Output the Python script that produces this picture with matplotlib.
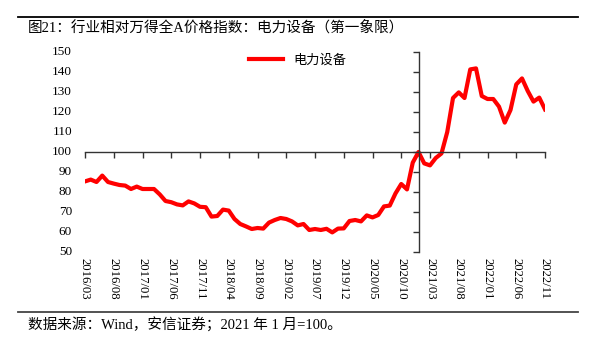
import matplotlib
matplotlib.use("Agg")
import matplotlib.pyplot as plt
from matplotlib.lines import Line2D

# monthly index, 2016/03 .. 2022/11 (2021/01 = 100)
values = [85.3, 86.2, 85.0, 88.2, 85.0, 84.2, 83.5, 83.2, 81.5, 82.7,
          81.5, 81.5, 81.5, 78.8, 75.5, 74.9, 73.8, 73.3, 75.3, 74.3,
          72.6, 72.4, 67.7, 68.0, 71.2, 70.7, 66.5, 64.0, 62.8, 61.5,
          62.0, 61.7, 64.7, 66.0, 67.0, 66.5, 65.3, 63.3, 64.0, 61.0,
          61.5, 61.0, 61.6, 59.8, 61.7, 61.8, 65.5, 66.0, 65.3, 68.3,
          67.3, 68.5, 72.8, 73.2, 79.3, 84.0, 81.3, 94.7, 100.0, 94.3,
          93.3, 97.0, 99.3, 110.0, 127.0, 129.8, 127.0, 141.3, 141.8, 128.0,
          126.5, 126.5, 122.7, 114.7, 121.0, 133.8, 136.8, 130.5, 125.2, 127.2,
          121.3]
tick_labels = ["2016/03", "2016/08", "2017/01", "2017/06", "2017/11", "2018/04",
               "2018/09", "2019/02", "2019/07", "2019/12", "2020/05", "2020/10",
               "2021/03", "2021/08", "2022/01", "2022/06", "2022/11"]
tick_pos = list(range(0, 81, 5))
y_ticks = [50, 60, 70, 80, 90, 100, 110, 120, 130, 140, 150]
base_idx = 58  # 2021/01

serif_cjk = ["Liberation Serif", "Noto Sans CJK SC"]

fig = plt.figure(figsize=(5.96, 3.47), dpi=100)
W, H = 596, 347
ax = fig.add_axes([85 / W, (H - 252) / H, 460 / W, 200 / H])

ax.plot(range(len(values)), values, color="#ff0000", lw=3, label="电力设备",
        solid_joinstyle="round")

ax.set_xlim(0, 80)
ax.set_ylim(50, 150)
ax.spines["top"].set_visible(False)
ax.spines["right"].set_visible(False)
ax.spines["left"].set_position(("data", base_idx))
ax.spines["bottom"].set_position(("data", 100))
for s in ("left", "bottom"):
    ax.spines[s].set_color("#333333")
    ax.spines[s].set_linewidth(1.0)

ax.set_xticks(tick_pos)
ax.set_xticklabels([])
ax.set_yticks(y_ticks)
ax.set_yticklabels([])
ax.tick_params(axis="both", length=4, width=1, color="#333333")

for p, lab in zip(tick_pos, tick_labels):
    ax.text(p, -0.03, lab, transform=ax.get_xaxis_transform(), rotation=-90,
            ha="center", va="top", fontsize=9.2, family="Liberation Serif")
for v in y_ticks:
    ax.text(-0.028, v, str(v), transform=ax.get_yaxis_transform(),
            ha="right", va="center", fontsize=9.5, family="Liberation Serif")

leg = ax.legend(loc="center", bbox_to_anchor=(0.462, 0.96), frameon=False,
                handlelength=2.6, prop={"family": "Noto Sans CJK SC", "size": 9.5})

fig.add_artist(Line2D([18 / W, 578 / W], [(H - 17) / H] * 2, color="black", lw=1.3))
fig.add_artist(Line2D([18 / W, 578 / W], [(H - 312) / H] * 2, color="#444444", lw=1.3))
fig.text(28 / W, (H - 27) / H, "图21：行业相对万得全A价格指数：电力设备（第一象限）",
         ha="left", va="center", fontsize=10.5, family=serif_cjk)
fig.text(28 / W, (H - 325) / H, "数据来源：Wind，安信证券；2021 年 1 月=100。",
         ha="left", va="center", fontsize=10.5, family=serif_cjk)

fig.savefig("out.png", dpi=100)
